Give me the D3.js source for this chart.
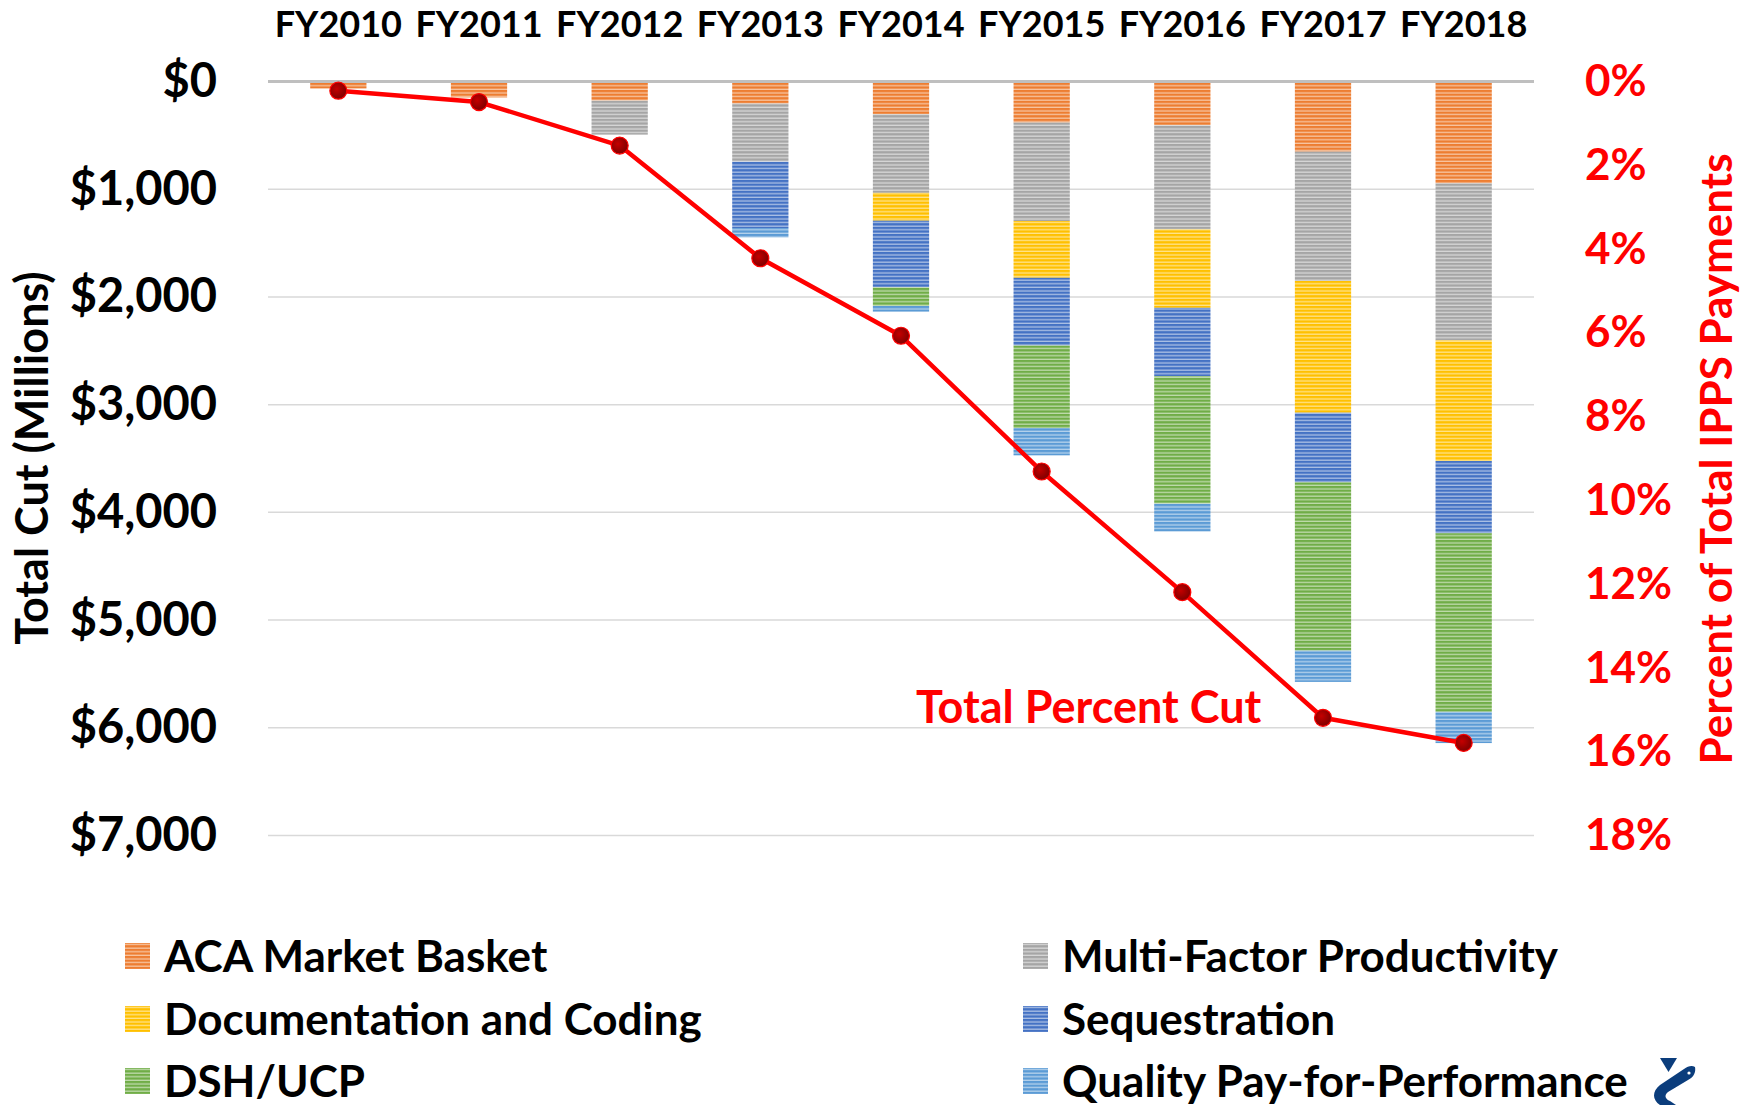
<!DOCTYPE html>
<html>
<head>
<meta charset="utf-8">
<script src="https://cdn.jsdelivr.net/npm/d3@7"></script>
<style>
    body { margin: 0; background: #fff; }
    text { font-family: Lato, "Open Sans", sans-serif; font-weight: bold; }
</style>
</head>
<body>
<div id="chart"></div>
<script>
var categories = ["FY2010", "FY2011", "FY2012", "FY2013", "FY2014", "FY2015", "FY2016", "FY2017", "FY2018"];

var acaMarketBasket = [65, 148, 178, 205, 304, 381, 406, 651, 945];
var multiFactorProductivity = [0, 0, 315, 540, 730, 914, 967, 1201, 1459];
var documentationCoding = [0, 0, 0, 0, 258, 527, 728, 1223, 1119];
var sequestration = [0, 0, 0, 615, 618, 629, 635, 646, 671];
var dshUcp = [0, 0, 0, 0, 174, 766, 1184, 1563, 1658];
var qualityPayForPerformance = [0, 0, 0, 87, 53, 254, 257, 290, 290];

// percent of total IPPS payments
var totalPercentCut = [0.22, 0.49, 1.53, 4.22, 6.07, 9.31, 12.19, 15.19, 15.79];

var seriesNames = ["ACA Market Basket", "Multi-Factor Productivity", "Documentation and Coding",
    "Sequestration", "DSH/UCP", "Quality Pay-for-Performance"];
var seriesValues = [acaMarketBasket, multiFactorProductivity, documentationCoding,
    sequestration, dshUcp, qualityPayForPerformance];
var seriesColors = ["#ED7D31", "#A5A5A5", "#FFC000", "#4472C4", "#70AD47", "#5B9BD5"];

var leftTicks = [0, 1000, 2000, 3000, 4000, 5000, 6000, 7000];
var rightTicks = [0, 2, 4, 6, 8, 10, 12, 14, 16, 18];

var width = 1748, height = 1105;
var plotLeft = 268, plotRight = 1534, plotTop = 81.5, plotBottom = 835.5;

var svg = d3.select("#chart")
    .append("svg:svg")
    .attr("width", width)
    .attr("height", height);

var defs = svg.append("defs");

function makeStripes(color, i) {
    var light = d3.interpolateRgb(color, "#ffffff")(0.55);
    var p = defs.append("pattern")
        .attr("id", "stripe" + i)
        .attr("patternUnits", "userSpaceOnUse")
        .attr("width", 8)
        .attr("height", 3.6);
    p.append("rect").attr("width", 8).attr("height", 3.6).attr("fill", light);
    p.append("rect").attr("width", 8).attr("height", 2.3).attr("fill", color);
}
seriesColors.forEach(makeStripes);

var grad = defs.append("radialGradient").attr("id", "dotFill").attr("cx", "40%").attr("cy", "40%");
grad.append("stop").attr("offset", "0%").attr("stop-color", "#c40000");
grad.append("stop").attr("offset", "100%").attr("stop-color", "#8a0000");

var x = d3.scaleBand()
    .domain(categories)
    .range([plotLeft, plotRight])
    .paddingInner(0.6)
    .paddingOuter(0.3);

var y = d3.scaleLinear().domain([0, 7000]).range([plotTop, plotBottom]);
var yPct = d3.scaleLinear().domain([0, 18]).range([plotTop, plotBottom]);

// gridlines
svg.append("g").selectAll("line")
    .data(leftTicks.slice(1))
    .enter().append("line")
    .attr("x1", plotLeft).attr("x2", plotRight)
    .attr("y1", function (d) { return y(d); })
    .attr("y2", function (d) { return y(d); })
    .attr("stroke", "#d9d9d9")
    .attr("stroke-width", 1.5);

// stacked bars
var table = categories.map(function (c, i) {
    var row = { category: c };
    seriesNames.forEach(function (s, k) { row[s] = seriesValues[k][i]; });
    return row;
});
var stacked = d3.stack().keys(seriesNames)(table);

svg.append("g").selectAll("g")
    .data(stacked)
    .enter().append("g")
    .attr("fill", function (d, i) { return "url(#stripe" + i + ")"; })
    .selectAll("rect")
    .data(function (d) { return d; })
    .enter().append("rect")
    .attr("x", function (d) { return x(d.data.category); })
    .attr("width", x.bandwidth())
    .attr("y", function (d) { return y(d[0]); })
    .attr("height", function (d) { return y(d[1]) - y(d[0]); });

// zero axis
svg.append("line")
    .attr("x1", plotLeft).attr("x2", plotRight)
    .attr("y1", y(0)).attr("y2", y(0))
    .attr("stroke", "#bfbfbf")
    .attr("stroke-width", 3);

// category labels on top
svg.append("g").selectAll("text")
    .data(categories)
    .enter().append("text")
    .attr("x", function (d) { return x(d) + x.bandwidth() / 2; })
    .attr("y", 37)
    .attr("text-anchor", "middle")
    .attr("font-size", 36)
    .attr("fill", "#000")
    .text(function (d) { return d; });

// left axis
var leftAxis = d3.axisLeft(y)
    .tickValues(leftTicks)
    .tickSize(0)
    .tickPadding(0)
    .tickFormat(function (d) { return "$" + d3.format(",")(d); });
var gl = svg.append("g").attr("transform", "translate(217,0)").call(leftAxis);
gl.select(".domain").remove();
gl.selectAll("text")
    .attr("font-size", 47)
    .attr("fill", "#000")
    .attr("font-family", "Lato, sans-serif")
    .attr("font-weight", "bold");

// right axis
var rightAxis = d3.axisRight(yPct)
    .tickValues(rightTicks)
    .tickSize(0)
    .tickPadding(0)
    .tickFormat(function (d) { return d + "%"; });
var gr = svg.append("g").attr("transform", "translate(1585,0)").call(rightAxis);
gr.select(".domain").remove();
gr.selectAll("text")
    .attr("font-size", 44)
    .attr("fill", "#ff0000")
    .attr("font-family", "'DejaVu Sans', sans-serif")
    .attr("font-weight", "bold");

// axis titles
svg.append("text")
    .attr("transform", "translate(48,458) rotate(-90)")
    .attr("text-anchor", "middle")
    .attr("font-size", 45)
    .attr("fill", "#000")
    .text("Total Cut (Millions)");

svg.append("text")
    .attr("transform", "translate(1732,459) rotate(-90)")
    .attr("text-anchor", "middle")
    .attr("font-size", 44)
    .attr("fill", "#ff0000")
    .text("Percent of Total IPPS Payments");

// percent line
var line = d3.line()
    .x(function (d, i) { return x(categories[i]) + x.bandwidth() / 2; })
    .y(function (d) { return yPct(d); });

svg.append("path")
    .datum(totalPercentCut)
    .attr("d", line)
    .attr("fill", "none")
    .attr("stroke", "#ff0000")
    .attr("stroke-width", 4.5)
    .attr("stroke-linejoin", "round");

svg.append("g").selectAll("circle")
    .data(totalPercentCut)
    .enter().append("circle")
    .attr("cx", function (d, i) { return x(categories[i]) + x.bandwidth() / 2; })
    .attr("cy", function (d) { return yPct(d); })
    .attr("r", 8.5)
    .attr("fill", "url(#dotFill)")
    .attr("stroke", "#ff0000")
    .attr("stroke-width", 1.2);

svg.append("text")
    .attr("x", 916)
    .attr("y", 723)
    .attr("font-size", 45)
    .attr("fill", "#ff0000")
    .text("Total Percent Cut");

// legend, two columns
var legendCols = [125, 1023];
var legendRows = [956, 1019, 1081];
var legend = svg.append("g").selectAll("g")
    .data(seriesNames)
    .enter().append("g")
    .attr("transform", function (d, i) {
        return "translate(" + legendCols[i % 2] + "," + legendRows[Math.floor(i / 2)] + ")";
    });
legend.append("rect")
    .attr("x", 0).attr("y", -13)
    .attr("width", 25).attr("height", 26)
    .attr("fill", function (d, i) { return "url(#stripe" + i + ")"; });
legend.append("text")
    .attr("x", 39)
    .attr("y", 16)
    .attr("font-size", 44)
    .attr("fill", "#000")
    .text(function (d) { return d; });

// logo
var logo = svg.append("g").attr("fill", "#0b3d7c");
logo.append("path").attr("d", "M1660,1058 L1677,1058 L1668.5,1072 Z");
logo.append("path")
    .attr("d", "M1695,1067 C1696,1072 1694,1077 1688,1080 L1668,1092 C1664,1095 1665,1099 1670,1101 L1676,1105 L1660,1105 C1652,1100 1652,1091 1660,1085 L1684,1069 C1688,1066 1692,1065 1695,1067 Z");
logo.append("circle").attr("cx", 1689).attr("cy", 1073).attr("r", 1.6).attr("fill", "#fff");
</script>
</body>
</html>
